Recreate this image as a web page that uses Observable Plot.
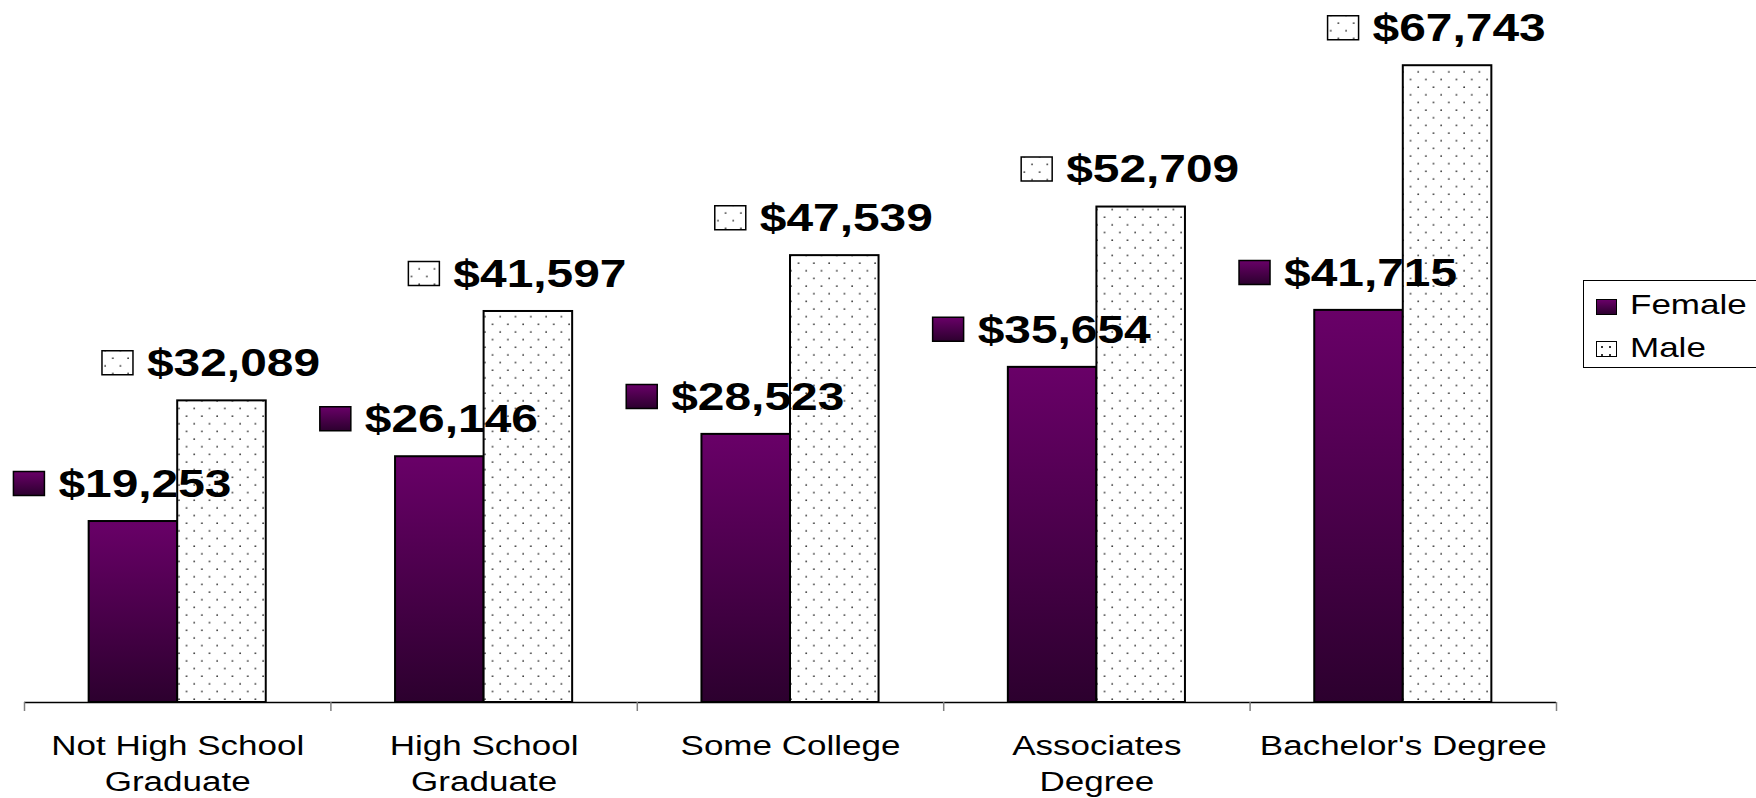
<!DOCTYPE html>
<html>
<head>
<meta charset="utf-8">
<script src="https://cdn.jsdelivr.net/npm/d3@7"></script>
<script src="https://cdn.jsdelivr.net/npm/@observablehq/plot@0.6"></script>
<style>
html,body{margin:0;padding:0;background:#fff;overflow:hidden;}
#wrap{position:relative;width:1756px;height:798px;overflow:hidden;font-family:"Liberation Sans",Arial,sans-serif;}
#chart svg{display:block;}
#legend{position:absolute;left:1583px;top:280px;width:200px;height:88px;border:1.5px solid #000;background:#fff;box-sizing:border-box;}
.sw{position:absolute;left:12px;width:21px;height:16px;border:1px solid #000;box-sizing:border-box;}
.sw.f{top:17.5px;background:linear-gradient(#690068,#2c002e);}
.sw.m{top:60px;background-color:#fff;background-image:radial-gradient(circle,#333 0.9px,transparent 1.1px);background-size:8px 8px;background-position:1px 1px;}
.lab{position:absolute;left:46px;font-size:28px;line-height:1;transform:scaleX(1.25);transform-origin:0 0;white-space:nowrap;color:#000;}
</style>
</head>
<body>
<div id="wrap">
  <div id="chart"></div>
  <div id="legend">
    <div class="sw f"></div><div class="lab" id="labF" style="top:9.5px"></div>
    <div class="sw m"></div><div class="lab" id="labM" style="top:53px"></div>
  </div>
</div>
<script>
// ---- data ----
const categories = ["Not High School\nGraduate", "High School\nGraduate", "Some College", "Associates\nDegree", "Bachelor's Degree"];
const seriesNames = ["Female", "Male"];
const female = [19253, 26146, 28523, 35654, 41715];
const male = [32089, 41597, 47539, 52709, 67743];

const fmt = d => "$" + d3.format(",")(d);
const barW = 0.289;       // bar width as a fraction of one category band
const FONT = '"Liberation Sans", Arial, sans-serif';

const defsMark = () => {
  const g = d3.create("svg:g");
  const defs = g.append("defs");
  const lg = defs.append("linearGradient").attr("id", "femGrad")
    .attr("x1", 0).attr("y1", 0).attr("x2", 0).attr("y2", 1);
  lg.append("stop").attr("offset", "0%").attr("stop-color", "#690068");
  lg.append("stop").attr("offset", "100%").attr("stop-color", "#2c002e");
  const p = defs.append("pattern").attr("id", "dots").attr("patternUnits", "userSpaceOnUse")
    .attr("width", 15.3).attr("height", 15.3);
  p.append("rect").attr("width", 15.3).attr("height", 15.3).attr("fill", "#fff");
  p.append("circle").attr("cx", 3).attr("cy", 3).attr("r", 0.9).attr("fill", "#333");
  p.append("circle").attr("cx", 10.65).attr("cy", 10.65).attr("r", 0.9).attr("fill", "#333");
  return g.node();
};

const keySymbol = {
  draw(ctx) {
    ctx.moveTo(-15.5, -12); ctx.lineTo(15.5, -12); ctx.lineTo(15.5, 12); ctx.lineTo(-15.5, 12); ctx.closePath();
  }
};

const fCenter = (d, i) => i + 0.5 - barW / 2;
const mCenter = (d, i) => i + 0.5 + barW / 2;

const chart = Plot.plot({
  width: 1756,
  height: 798,
  marginLeft: 24,
  marginRight: 200,
  marginTop: 44,
  marginBottom: 96,
  x: {type: "linear", domain: [0, 5], axis: null},
  y: {domain: [0, 70000], axis: null},
  style: {fontFamily: FONT, background: "#fff", overflow: "visible"},
  marks: [
    defsMark,
    Plot.rect(female, {x1: (d, i) => i + 0.5 - barW, x2: (d, i) => i + 0.5, y1: 0, y2: d => d,
      fill: "url(#femGrad)", stroke: "#000", strokeWidth: 2}),
    Plot.rect(male, {x1: (d, i) => i + 0.5, x2: (d, i) => i + 0.5 + barW, y1: 0, y2: d => d,
      fill: "url(#dots)", stroke: "#000", strokeWidth: 2}),
    Plot.ruleY([0], {stroke: "#000", strokeWidth: 1.3}),
    Plot.ruleX(d3.range(categories.length + 1), {y1: 0, y2: 0, insetBottom: -9, stroke: "#808080", strokeWidth: 1.5}),
    // value labels with legend keys
    Plot.dot(female, {x: fCenter, y: d => d, dx: -104.5, dy: -38, symbol: keySymbol,
      fill: "url(#femGrad)", stroke: "#000", strokeWidth: 1.5}),
    Plot.dot(male, {x: mCenter, y: d => d, dx: -104.5, dy: -38, symbol: keySymbol,
      fill: "url(#dots)", stroke: "#000", strokeWidth: 1.5}),
    Plot.text(female, {x: fCenter, y: d => d, text: fmt, dx: -75, dy: -37, textAnchor: "start",
      lineAnchor: "middle", fontSize: 38, fontWeight: "bold", fill: "#000"}),
    Plot.text(male, {x: mCenter, y: d => d, text: fmt, dx: -75, dy: -37, textAnchor: "start",
      lineAnchor: "middle", fontSize: 38, fontWeight: "bold", fill: "#000"}),
    // category labels
    Plot.text(categories, {x: (d, i) => i + 0.5, y: () => 0, text: d => d, dy: 27, lineAnchor: "top",
      lineHeight: 1.3, textAnchor: "middle", fontSize: 27.8, fill: "#000"})
  ]
});

// horizontal stretch of the text, as in the reference (scale around each text's anchor)
const S = 1.26;
d3.select(chart).selectAll("text").each(function () {
  const t = this.getAttribute("transform") || "";
  this.setAttribute("transform", t + ` scale(${S},1)`);
});

document.getElementById("chart").appendChild(chart);
document.getElementById("labF").textContent = seriesNames[0];
document.getElementById("labM").textContent = seriesNames[1];
</script>
</body>
</html>
